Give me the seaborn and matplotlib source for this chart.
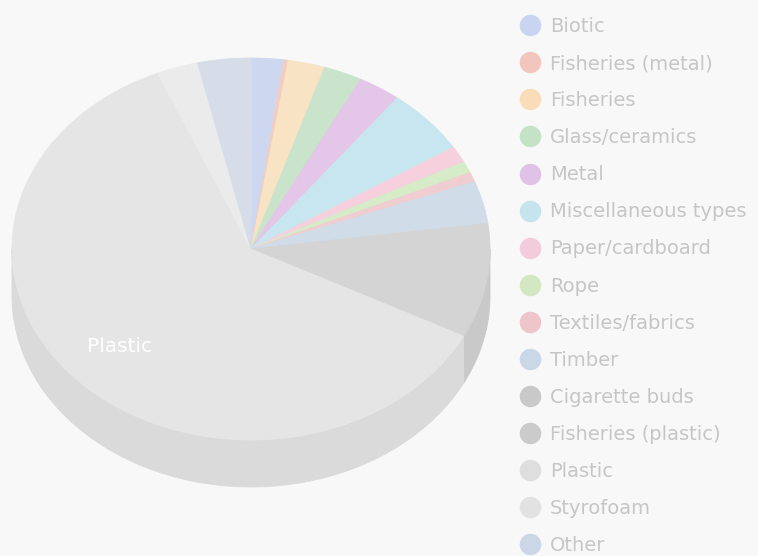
import numpy as np
import matplotlib
matplotlib.use("Agg")
import matplotlib.pyplot as plt
from matplotlib.patches import Polygon
from matplotlib.lines import Line2D
import seaborn as sns

# categories, shares (%) and colours
categories = ["Biotic", "Fisheries (metal)", "Fisheries", "Glass/ceramics", "Metal",
              "Miscellaneous types", "Paper/cardboard", "Rope", "Textiles/fabrics",
              "Timber", "Cigarette buds", "Fisheries (plastic)", "Plastic",
              "Styrofoam", "Other"]
shares = [2.2, 0.3, 2.5, 2.6, 2.9, 5.6, 1.4, 1.0, 0.8, 3.6, 5.0, 4.7, 61.2, 2.8, 3.6]
top_colors = ["#cdd8f0", "#f2cdc2", "#f8e3c4", "#c9e4cb", "#e4c6e8", "#c8e6ef",
              "#f6d0dc", "#d6ebc8", "#f0cdd1", "#d0dce8", "#d4d4d4", "#d4d4d4",
              "#e5e5e5", "#ebebeb", "#d6dde8"]
legend_colors = ["#c9d5f0", "#f3c6bd", "#f8ddb8", "#c4e2c6", "#e0c2e6", "#c5e4ee",
                 "#f3ccdb", "#d3e8c2", "#eec5ca", "#c9d7e6", "#c9c9c9", "#cbcbcb",
                 "#dedede", "#e2e2e2", "#cbd6e6"]
label_text = "Plastic"

bg = "#f8f8f8"
sns.set_theme(style="white")
plt.rcParams["font.family"] = ["DejaVu Sans"]

fig = plt.figure(figsize=(7.58, 5.56), dpi=100, facecolor=bg)
ax = fig.add_axes([0, 0, 1, 1])
ax.set_facecolor(bg)

# top face of the pie
wedges, _ = ax.pie(shares, colors=top_colors, startangle=90, counterclock=False,
                   radius=1, wedgeprops=dict(linewidth=0.6, zorder=3))
for w in wedges:
    w.set_edgecolor(w.get_facecolor())

# side wall (front half only)
depth = 0.246
def darker(c, f=0.95):
    r, g, b = matplotlib.colors.to_rgb(c)
    return (r * f, g * f, b * f)

for w, c in zip(wedges, top_colors):
    t1, t2 = sorted([w.theta1, w.theta2])
    for off in (-360, 0, 360):
        a = max(t1 + off, 180)
        b = min(t2 + off, 360)
        if b > a:
            t = np.radians(np.linspace(a, b, 60))
            xs = np.cos(t)
            ys = np.sin(t)
            pts = np.concatenate([np.column_stack([xs, ys]),
                                  np.column_stack([xs[::-1], ys[::-1] - depth])])
            ax.add_patch(Polygon(pts, closed=True, facecolor=darker(c),
                                 edgecolor=darker(c), linewidth=0.6, zorder=1))

# label on the largest slice
idx = categories.index(label_text)
w = wedges[idx]
mid = np.radians((w.theta1 + w.theta2) / 2)
ax.text(0.75 * np.cos(mid), 0.75 * np.sin(mid), label_text, color="white",
        fontsize=14.5, ha="center", va="center", zorder=5)

ax.set_aspect("auto")
ax.set_xlim(-251 / 239, (758 - 251) / 239)
ax.set_ylim(-307 / 191, 249 / 191)
ax.axis("off")

handles = [Line2D([0], [0], marker="o", linestyle="none", markersize=15.5,
                  markerfacecolor=c, markeredgecolor="none") for c in legend_colors]
leg = fig.legend(handles, categories, loc="upper left",
                 bbox_to_anchor=(517 / 758, 1 - 17 / 556), frameon=False,
                 fontsize=14, labelspacing=0.93, handlelength=1.3, handletextpad=0.4,
                 borderpad=0, borderaxespad=0)
for t in leg.get_texts():
    t.set_color("#c6c6c6")

fig.savefig("out.png", dpi=100, facecolor=bg)
